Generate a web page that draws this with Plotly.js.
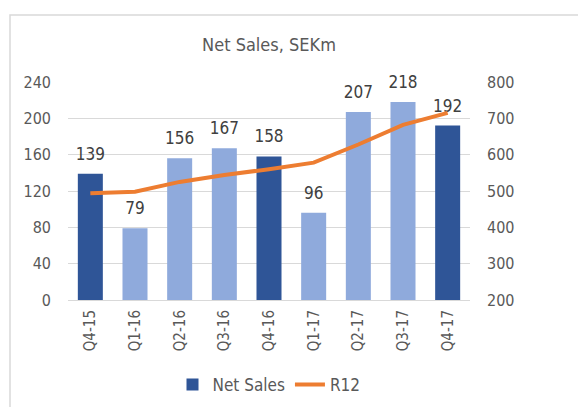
<!DOCTYPE html>
<html>
<head>
<meta charset="utf-8">
<script src="https://cdn.plot.ly/plotly-3.0.1.min.js"></script>
<style>html,body{margin:0;padding:0;background:#fff;}#chart{width:578px;height:407px;}</style>
</head>
<body>
<div id="chart"></div>
<script>
const categories = ["Q4-15","Q1-16","Q2-16","Q3-16","Q4-16","Q1-17","Q2-17","Q3-17","Q4-17"];
const netSales = [139, 79, 156, 167, 158, 96, 207, 218, 192];
const r12 = [494, 498, 525, 544, 560, 578, 628, 682, 715];
const barColors = ["#2F5597","#8FAADC","#8FAADC","#8FAADC","#2F5597","#8FAADC","#8FAADC","#8FAADC","#2F5597"];
const leftTicks = [0, 40, 80, 120, 160, 200, 240];
const rightTicks = [200, 300, 400, 500, 600, 700, 800];

const FONT = "'DejaVu Sans Condensed', 'Liberation Sans Narrow', sans-serif";
const TXT = "#595959";

const traces = [
  {
    type: "bar",
    name: "Net Sales",
    x: categories,
    y: netSales,
    marker: {color: barColors},
    hoverinfo: "x+y"
  },
  {
    type: "scatter",
    mode: "markers+text",
    name: "labels",
    showlegend: false,
    x: categories,
    y: netSales,
    text: netSales.map(String),
    textposition: "top center",
    cliponaxis: false,
    marker: {size: 14, color: "rgba(0,0,0,0)"},
    textfont: {family: FONT, size: 17, color: "#404040"},
    hoverinfo: "skip"
  },
  {
    type: "scatter",
    mode: "lines",
    name: "R12",
    x: categories,
    y: r12,
    yaxis: "y2",
    line: {color: "#ED7D31", width: 4}
  }
];

const layout = {
  width: 578, height: 407,
  margin: {l: 68, r: 108, t: 82, b: 107},
  paper_bgcolor: "#fff", plot_bgcolor: "#fff",
  font: {family: FONT, color: TXT, size: 15},
  title: {text: "Net Sales, SEKm", x: 0.5, xref: "paper", xanchor: "center", y: 1 - 45/407, yanchor: "middle", font: {family: FONT, size: 18, color: TXT}},
  bargap: 0.44,
  showlegend: true,
  legend: {orientation: "h", x: 0.5, xanchor: "center", xref: "paper", yref: "container", y: 1 - 385/407, yanchor: "middle", font: {family: FONT, size: 17, color: TXT}},
  xaxis: {
    type: "category",
    range: [-0.5, categories.length - 0.5],
    tickangle: -90,
    tickfont: {family: FONT, size: 15, color: TXT},
    showgrid: false, zeroline: false, showline: false,
    ticks: "", ticklabelstandoff: 6
  },
  yaxis: {
    range: [0, 240], tickvals: leftTicks, ticktext: leftTicks.map(String),
    showgrid: true, gridcolor: "#D9D9D9", gridwidth: 1,
    zeroline: true, zerolinecolor: "#D9D9D9", zerolinewidth: 1,
    showline: false, ticks: "", ticklabelstandoff: 16,
    tickfont: {family: FONT, size: 16, color: TXT}
  },
  yaxis2: {
    overlaying: "y", side: "right",
    range: [200, 800], tickvals: rightTicks, ticktext: rightTicks.map(String),
    showgrid: false, zeroline: false, showline: false, ticks: "", ticklabelstandoff: 16,
    tickfont: {family: FONT, size: 16, color: TXT}
  },
  shapes: [{
    type: "rect", xref: "paper", yref: "paper",
    x0: (10 - 68) / 402, x1: (590 - 68) / 402,
    y0: (300 - 420) / 218, y1: (300 - 15) / 218,
    line: {color: "#D9D9D9", width: 1.5}, fillcolor: "rgba(0,0,0,0)", layer: "below"
  }]
};

Plotly.newPlot("chart", traces, layout, {displayModeBar: false, staticPlot: true});
</script>
</body>
</html>
